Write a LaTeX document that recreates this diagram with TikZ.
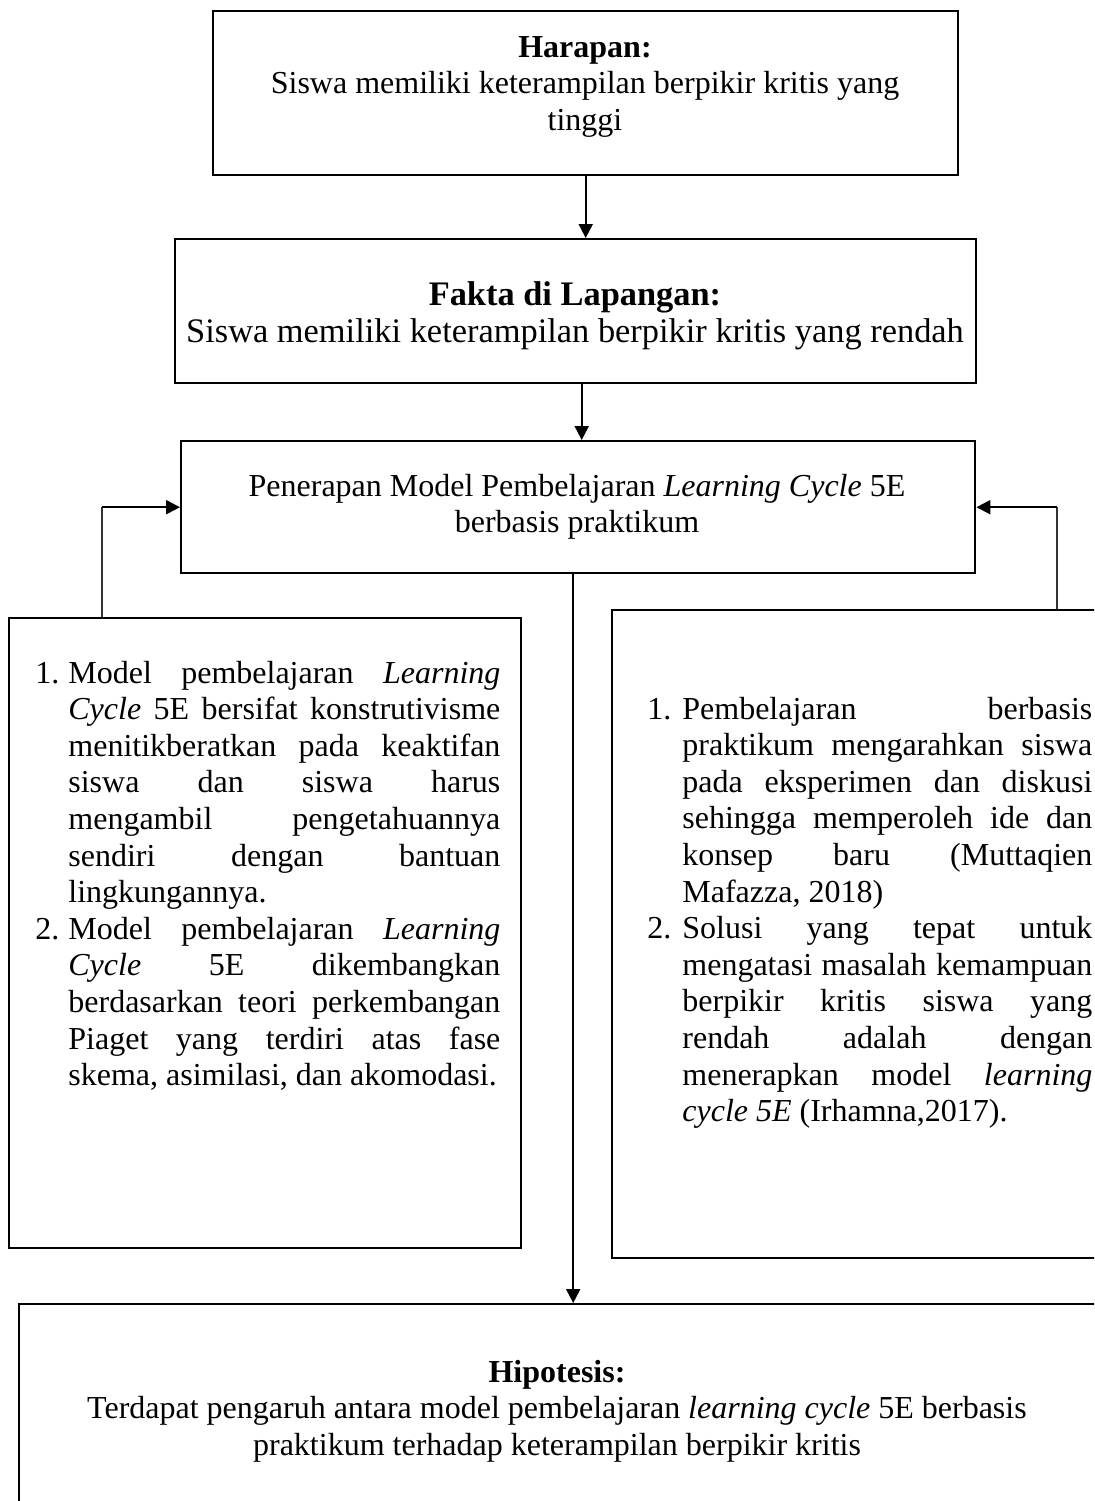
\documentclass[tikz,border=0pt]{standalone}
\usepackage{fontspec}
\setmainfont{Liberation Serif}
\usetikzlibrary{arrows.meta}
\setlength{\parindent}{0pt}
\newlength{\jw}
\newcommand{\jline}[1]{\makebox[\jw][s]{#1}}
\tikzset{
  box/.style={draw, line width=1.2pt, anchor=north west, inner sep=0pt},
  txt/.style={inner sep=0pt, font=\fontsize{16}{18.3}\selectfont},
  arr/.style={line width=1pt, -{Triangle[length=7pt,width=7pt]}},
  thinl/.style={line width=0.6pt, draw=black!80},
}
\begin{document}
\begin{tikzpicture}[x=0.5pt,y=-0.5pt]
\useasboundingbox (0,0) rectangle (1094,1501);
\clip (0,0) rectangle (1094,1501);
% boxes
\node[box, minimum width=372.5pt, minimum height=82pt] (harapan) at (212,10) {};
\node[box, minimum width=400.5pt, minimum height=72pt] (fakta) at (174,238) {};
\node[box, minimum width=397pt, minimum height=66pt] (penerapan) at (180,440) {};
\node[box, minimum width=256pt, minimum height=315pt] (leftbox) at (8,617) {};
\node[box, minimum width=249.5pt, minimum height=324pt] (rightbox) at (611,609) {};
\node[box, minimum width=541pt, minimum height=108.5pt] (hipotesis) at (18,1303) {};
% texts
\node[txt, anchor=base] (tharapan) at (585,57) {\begin{minipage}[t]{360pt}\centering
\textbf{Harapan:}\\
Siswa memiliki keterampilan berpikir kritis yang\\
tinggi\end{minipage}};
\node[txt, anchor=base, font=\fontsize{17.2}{18.5}\selectfont] (tfakta) at (575,305) {\begin{minipage}[t]{398pt}\centering
\textbf{Fakta di Lapangan:}\\
Siswa memiliki keterampilan berpikir kritis yang rendah\end{minipage}};
\node[txt, anchor=base] (tpenerapan) at (577,496) {\begin{minipage}[t]{390pt}\centering
Penerapan Model Pembelajaran \textit{Learning Cycle} 5E\\
berbasis praktikum\end{minipage}};
\node[txt, anchor=base] (thipotesis) at (557,1382) {\begin{minipage}[t]{520pt}\centering
\textbf{Hipotesis:}\\
Terdapat pengaruh antara model pembelajaran \textit{learning cycle} 5E berbasis\\
praktikum terhadap keterampilan berpikir kritis\end{minipage}};
\node[txt, anchor=base west] (tleft) at (35,683) {\setlength{\jw}{216pt}\begin{minipage}[t]{240pt}
\makebox[16.5pt][l]{1.}\jline{Model pembelajaran \textit{Learning}}\\
\hspace*{16.5pt}\jline{\textit{Cycle} 5E bersifat konstrutivisme}\\
\hspace*{16.5pt}\jline{menitikberatkan pada keaktifan}\\
\hspace*{16.5pt}\jline{siswa dan siswa harus}\\
\hspace*{16.5pt}\jline{mengambil pengetahuannya}\\
\hspace*{16.5pt}\jline{sendiri dengan bantuan}\\
\hspace*{16.5pt}lingkungannya.\\
\makebox[16.5pt][l]{2.}\jline{Model pembelajaran \textit{Learning}}\\
\hspace*{16.5pt}\jline{\textit{Cycle} 5E dikembangkan}\\
\hspace*{16.5pt}\jline{berdasarkan teori perkembangan}\\
\hspace*{16.5pt}\jline{Piaget yang terdiri atas fase}\\
\hspace*{16.5pt}skema, asimilasi, dan akomodasi.\end{minipage}};
\node[txt, anchor=base west] (tright) at (647,719) {\setlength{\jw}{205pt}\begin{minipage}[t]{230pt}
\makebox[17.5pt][l]{1.}\jline{Pembelajaran berbasis}\\
\hspace*{17.5pt}\jline{praktikum mengarahkan siswa}\\
\hspace*{17.5pt}\jline{pada eksperimen dan diskusi}\\
\hspace*{17.5pt}\jline{sehingga memperoleh ide dan}\\
\hspace*{17.5pt}\jline{konsep baru (Muttaqien}\\
\hspace*{17.5pt}Mafazza, 2018)\\
\makebox[17.5pt][l]{2.}\jline{Solusi yang tepat untuk}\\
\hspace*{17.5pt}\jline{mengatasi masalah kemampuan}\\
\hspace*{17.5pt}\jline{berpikir kritis siswa yang}\\
\hspace*{17.5pt}\jline{rendah adalah dengan}\\
\hspace*{17.5pt}\jline{menerapkan model \textit{learning}}\\
\hspace*{17.5pt}\textit{cycle 5E} (Irhamna,2017).\end{minipage}};
% connectors
\coordinate (lfoot) at (102,617);
\coordinate (rfoot) at (1057,609);
\draw[arr] (harapan.south) -- (harapan.south |- fakta.north);
\draw[arr] ([xshift=3pt]fakta.south) -- ([xshift=3pt]fakta.south |- penerapan.north);
\draw[arr] ([xshift=-2.5pt]penerapan.south) -- ([xshift=-2.5pt]penerapan.south |- hipotesis.north);
\draw[thinl] (lfoot) -- (lfoot |- penerapan.west);
\draw[arr] (lfoot |- penerapan.west) -- (penerapan.west);
\draw[thinl] (rfoot) -- (rfoot |- penerapan.east);
\draw[arr] (rfoot |- penerapan.east) -- (penerapan.east);
\end{tikzpicture}
\end{document}
